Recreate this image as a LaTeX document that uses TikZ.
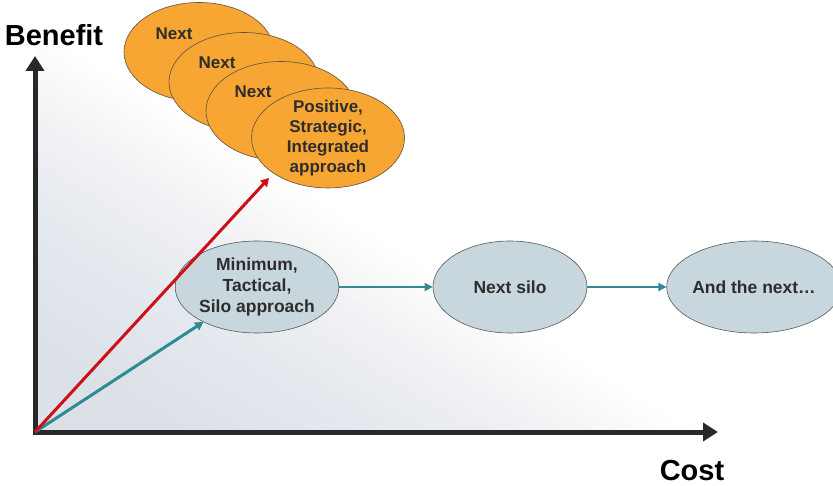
\documentclass[tikz,border=0pt]{standalone}
\usepackage{fontspec}
\setmainfont{Liberation Sans}
\usetikzlibrary{shapes.geometric,arrows.meta,calc}
\definecolor{orangefill}{RGB}{247,166,51}
\definecolor{bluefill}{RGB}{200,214,222}
\definecolor{tealline}{RGB}{47,138,150}
\definecolor{redline}{RGB}{204,16,24}
\definecolor{axisgray}{RGB}{40,40,40}
\definecolor{shadebg}{RGB}{196,209,218}
\definecolor{edgegray}{RGB}{95,80,65}
\definecolor{textgray}{RGB}{45,45,45}
\begin{document}
\begin{tikzpicture}[x=1pt,y=-1pt,
  orangeell/.style={ellipse, draw=edgegray, line width=0.6pt, fill=orangefill,
    minimum width=150pt, minimum height=99pt, inner sep=0pt},
  blueell/.style={ellipse, draw=gray!70!black, line width=0.6pt, fill=bluefill,
    minimum width=154pt, minimum height=92pt, inner sep=0pt, align=center,
    text=textgray, font=\bfseries\fontsize{17.5}{21}\selectfont},
  elltext/.style={text=textgray, align=center, font=\bfseries\fontsize{17}{20}\selectfont},
  axislabel/.style={text=black, inner sep=0pt, font=\bfseries\fontsize{29}{29}\selectfont},
  axisline/.style={draw=axisgray, line width=5pt,
    {Triangle[width=18pt,length=15pt]}-{Triangle[width=18pt,length=15pt]}},
  growth/.style={line width=3pt, -{Triangle[width=9pt,length=8pt]}},
  step arrow/.style={draw=tealline, line width=2pt, -{Triangle[width=8pt,length=8pt]}}
]
\useasboundingbox (0,0) rectangle (833,486);
\fill[white] (0,0) rectangle (833,486);

% background shading: nested translucent triangles fading toward the diagonal
\foreach \i in {0,...,21}{
  \pgfmathsetmacro{\s}{1-0.036*\i}
  \fill[shadebg, fill opacity=0.032]
    (35,432) -- ($(35,432)!\s!(35,30)$) -- ($(35,432)!\s!(690,432)$) -- cycle;
}

% orange stack
\node[orangeell] (o1) at (199,52) {};
\node[elltext] (t1) at (174,34) {Next};
\node[orangeell] (o2) at (244,82) {};
\node[elltext] (t2) at (217,63) {Next};
\node[orangeell] (o3) at (281,111) {};
\node[elltext] (t3) at (253,92) {Next};
\node[orangeell, minimum width=153pt, minimum height=100pt] (pos) at (328,138) {};
\node[elltext] (t4) at (328,138) {Positive,\\Strategic,\\Integrated\\approach};

% blue ellipses
\node[blueell] (min) at (257,287) {Minimum,\\Tactical,\\Silo approach};
\node[blueell] (silo) at (510,287) {Next silo};
\node[blueell] (andnext) at (754,287) {And the next\ldots};

% axes
\coordinate (O) at (35,432);
\coordinate (ytip) at (35,56);
\coordinate (xtip) at (718,432);
\draw[axisline] (ytip) -- (O) -- (xtip);
\node[axislabel] (benefit) at (54,35) {Benefit};
\node[axislabel] (cost) at (692,471) {Cost};

% growth arrows
\coordinate (redtip) at (269,178);
\draw[growth, draw=tealline, fill=tealline] (O) -- (min);
\draw[growth, draw=redline, fill=redline] (O) -- (redtip);

% silo steps
\draw[step arrow] (min) -- (silo);
\draw[step arrow] (silo) -- (andnext);
\end{tikzpicture}
\end{document}
